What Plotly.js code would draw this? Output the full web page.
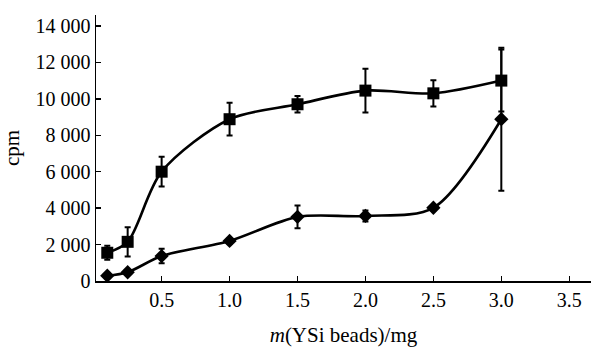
<!DOCTYPE html>
<html>
<head>
<meta charset="utf-8">
<script src="https://cdn.plot.ly/plotly-3.0.1.min.js"></script>
<style>html,body{margin:0;padding:0;background:#fff;}#chart{width:591px;height:347px;}</style>
</head>
<body>
<div id="chart"></div>
<script>
const massX = [0.1, 0.25, 0.5, 1.0, 1.5, 2.0, 2.5, 3.0];
const squareCpm = [1550, 2150, 6000, 8880, 9700, 10450, 10300, 11000];
const squareErr = [380, 800, 820, 900, 450, 1200, 720, 1700];
const diamondCpm = [290, 480, 1370, 2200, 3520, 3570, 4020, 8880];
const diamondErr = [150, 120, 400, 150, 620, 300, 150, 3920];
const xTickVals = [0.5, 1.0, 1.5, 2.0, 2.5, 3.0, 3.5];
const yTickVals = [0, 2000, 4000, 6000, 8000, 10000, 12000, 14000];

const font = {family: 'Liberation Serif, Times New Roman, serif', size: 20, color: '#000'};
const titleFont = {family: 'Liberation Serif, Times New Roman, serif', size: 21, color: '#000'};

const traces = [
  {
    x: massX, y: squareCpm, type: 'scatter', mode: 'lines+markers',
    line: {shape: 'spline', smoothing: 0.85, color: '#000', width: 2.6},
    marker: {symbol: 'square', size: 12, color: '#000'},
    error_y: {type: 'data', array: squareErr, visible: true, color: '#000', thickness: 2, width: 3},
    showlegend: false, hoverinfo: 'x+y'
  },
  {
    x: massX, y: diamondCpm, type: 'scatter', mode: 'lines+markers',
    line: {shape: 'spline', smoothing: 0.85, color: '#000', width: 2.6},
    marker: {symbol: 'diamond', size: 11, color: '#000'},
    error_y: {type: 'data', array: diamondErr, visible: true, color: '#000', thickness: 2, width: 3},
    showlegend: false, hoverinfo: 'x+y'
  }
];

const layout = {
  width: 591, height: 347,
  margin: {l: 96, r: 0, t: 15, b: 66},
  paper_bgcolor: '#fff', plot_bgcolor: '#fff',
  separators: '. ',
  font: font,
  xaxis: {
    range: [0.017, 3.66], tickvals: xTickVals, tickformat: '.1f',
    ticks: 'inside', ticklen: 5, tickwidth: 1.5, tickcolor: '#000',
    showline: true, linecolor: '#000', linewidth: 1.5,
    showgrid: false, zeroline: false, tickfont: font,
    title: {text: '<i>m</i>(YSi beads)/mg', font: titleFont, standoff: 18}
  },
  yaxis: {
    range: [0, 14600], tickvals: yTickVals, tickformat: ',d',
    ticks: 'inside', ticklen: 5, tickwidth: 1.5, tickcolor: '#000',
    showline: true, linecolor: '#000', linewidth: 1.5,
    showgrid: false, zeroline: false, tickfont: font,
    title: {text: 'cpm', font: titleFont, standoff: 10}
  }
};

Plotly.newPlot('chart', traces, layout, {staticPlot: true, displayModeBar: false});
</script>
</body>
</html>
